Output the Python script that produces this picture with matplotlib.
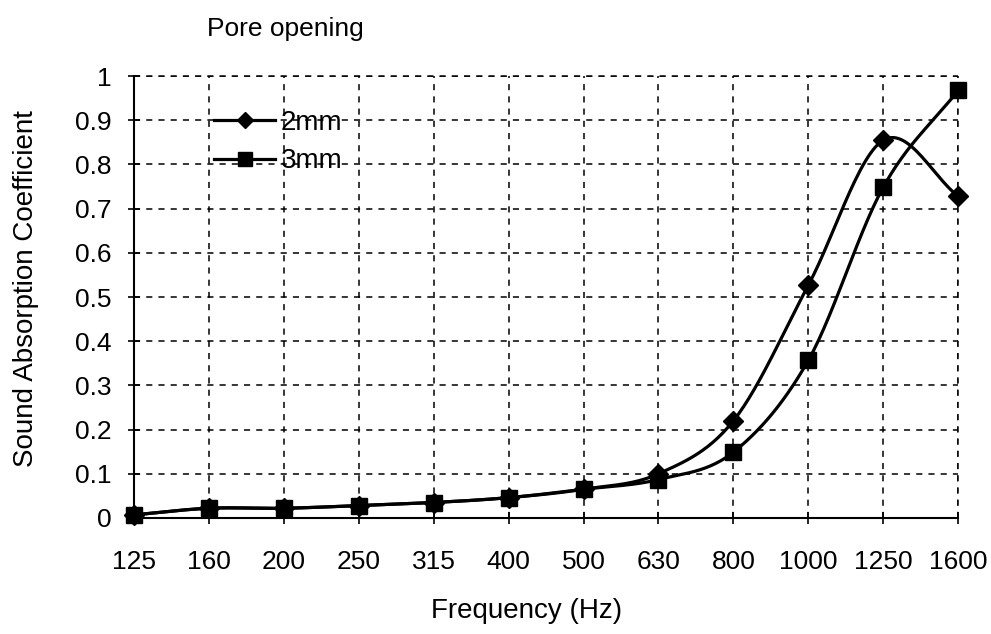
import numpy as np
import matplotlib
matplotlib.use("Agg")
import matplotlib.pyplot as plt

plt.rcParams["font.family"] = ["Liberation Sans", "DejaVu Sans"]

freqs = ["125", "160", "200", "250", "315", "400", "500", "630", "800", "1000", "1250", "1600"]
pore_2mm = [0.007, 0.022, 0.022, 0.028, 0.035, 0.046, 0.065, 0.100, 0.220, 0.527, 0.855, 0.728]
pore_3mm = [0.007, 0.022, 0.022, 0.028, 0.035, 0.046, 0.065, 0.087, 0.149, 0.357, 0.749, 0.968]


def smooth(y, n=30):
    # Catmull-Rom curve through the points, like Excel's "smoothed line"
    y = np.asarray(y, float)
    x = np.arange(len(y), dtype=float)
    px = np.concatenate([[2 * x[0] - x[1]], x, [2 * x[-1] - x[-2]]])
    py = np.concatenate([[2 * y[0] - y[1]], y, [2 * y[-1] - y[-2]]])
    xs, ys = [], []
    t = np.linspace(0, 1, n)
    for i in range(1, len(px) - 2):
        for p, out in ((px, xs), (py, ys)):
            p0, p1, p2, p3 = p[i - 1], p[i], p[i + 1], p[i + 2]
            out.extend(0.5 * (2 * p1 + (-p0 + p2) * t
                              + (2 * p0 - 5 * p1 + 4 * p2 - p3) * t ** 2
                              + (-p0 + 3 * p1 - 3 * p2 + p3) * t ** 3))
    return np.array(xs), np.array(ys)


fig = plt.figure(figsize=(9.91, 6.34), dpi=100)
ax = fig.add_axes([0.135, 0.183, 0.832, 0.697])

idx = np.arange(len(freqs))
for vals, mk, ms, lab in ((pore_2mm, "D", 10, "2mm"), (pore_3mm, "s", 12, "3mm")):
    sx, sy = smooth(vals)
    ax.plot(sx, sy, color="black", lw=2.3, zorder=3)
    ax.plot(idx, vals, ls="none", marker=mk, ms=ms, color="black", zorder=4, clip_on=False)
    ax.plot([], [], color="black", lw=2.3, marker=mk, ms=ms * 0.85, label=lab)

ax.set_xlim(0, len(freqs) - 1)
ax.set_ylim(0, 1)
ax.set_xticks(idx)
ax.set_xticklabels(freqs)
ax.set_yticks(np.arange(0, 1.01, 0.1))
ax.set_yticklabels(["0", "0.1", "0.2", "0.3", "0.4", "0.5", "0.6", "0.7", "0.8", "0.9", "1"])
ax.tick_params(axis="both", direction="inout", length=8, width=1.2, labelsize=19,
               colors="black")
ax.tick_params(axis="y", pad=12)
ax.tick_params(axis="x", pad=19)

ax.grid(True, color="black", ls=(0, (4, 4)), lw=1.1)
ax.set_axisbelow(True)
for s in ("top", "right"):
    ax.spines[s].set_visible(False)
for s in ("left", "bottom"):
    ax.spines[s].set_linewidth(1.5)
ax.axhline(1, color="black", ls=(0, (4, 4)), lw=1.1, clip_on=False)
ax.axvline(len(freqs) - 1, color="black", ls=(0, (4, 4)), lw=1.1, clip_on=False)

ax.set_xlabel("Frequency (Hz)", fontsize=20)
ax.xaxis.set_label_coords(0.476, -0.18)
ax.set_ylabel("Sound Absorption Coefficient", fontsize=20)
ax.yaxis.set_label_coords(-0.115, 0.52)
fig.text(0.288, 0.955, "Pore opening", fontsize=19, ha="center", va="center")

leg = ax.legend(loc="upper left", bbox_to_anchor=(0.067, 0.98), frameon=False,
                fontsize=20, handlelength=2.2, handletextpad=0.2, labelspacing=0.45)

fig.savefig("out.png", dpi=100)
